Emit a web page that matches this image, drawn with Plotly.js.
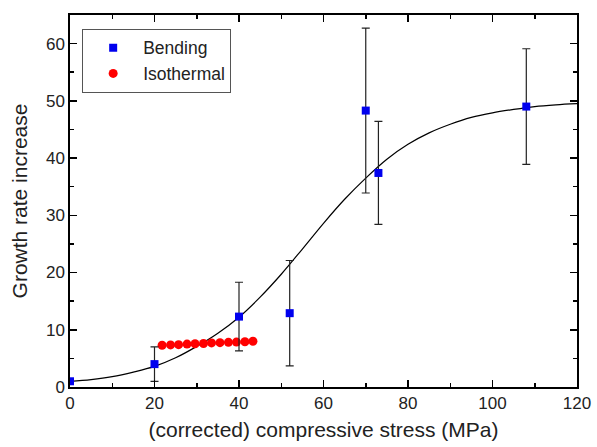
<!DOCTYPE html>
<html>
<head>
<meta charset="utf-8">
<script src="https://cdn.plot.ly/plotly-3.0.1.min.js"></script>
<style>html,body{margin:0;padding:0;background:#fff;}#chart{width:597px;height:447px;}</style>
</head>
<body>
<div id="chart"></div>
<script>
// Bending data (with error bars)
var bendX = [0, 20, 40, 52, 70, 73, 108];
var bendY = [1.0, 4.0, 12.3, 12.9, 48.3, 37.4, 49.0];
var bendErr = [0, 3.0, 6.0, 9.2, 14.4, 9.0, 10.1];

// Isothermal data
var isoX = [21.8, 23.8, 25.7, 27.7, 29.6, 31.6, 33.5, 35.5, 37.5, 39.4, 41.4, 43.3];
var isoY = [7.3, 7.35, 7.4, 7.5, 7.55, 7.6, 7.7, 7.75, 7.8, 7.85, 7.9, 8.0];

// Fit curve
var fitX = [0, 5, 10, 15, 20, 25, 30, 35, 40, 45, 50, 55, 60, 65, 70, 75, 80, 85, 90, 95, 100, 105, 110, 115, 120];
var fitY = [1.0, 1.3, 1.8, 2.6, 3.6, 5.1, 7.1, 9.4, 12.2, 15.7, 19.7, 24.1, 28.6, 32.8, 36.5, 39.8, 42.4, 44.4, 45.9, 47.1, 47.9, 48.5, 49.0, 49.3, 49.5];

var font = 'Liberation Sans, Arial, sans-serif';

var traces = [
  {
    x: fitX, y: fitY, mode: 'lines', type: 'scatter', showlegend: false,
    line: {color: '#000', width: 1.2, shape: 'spline'}, hoverinfo: 'skip'
  },
  {
    x: isoX, y: isoY, mode: 'markers', type: 'scatter', name: 'Isothermal',
    marker: {symbol: 'circle', size: 9, color: '#ff0000'}
  },
  {
    x: bendX, y: bendY, mode: 'markers', type: 'scatter', name: 'Bending',
    marker: {symbol: 'square', size: 8, color: '#0000ee'},
    error_y: {type: 'data', array: bendErr, visible: true, color: '#222', thickness: 1.2, width: 4}
  }
];

var axisCommon = {
  showline: true, linecolor: '#000', linewidth: 1.6, mirror: 'allticks',
  ticks: 'inside', ticklen: 7, tickwidth: 1.5, tickcolor: '#000',
  showgrid: false, zeroline: false,
  tickfont: {family: font, size: 17, color: '#222'}
};

var layout = {
  width: 597, height: 447,
  margin: {l: 70, r: 20, t: 15, b: 60},
  paper_bgcolor: '#fff', plot_bgcolor: '#fff',
  showlegend: true,
  xaxis: Object.assign({}, axisCommon, {
    range: [0, 120], dtick: 20, tick0: 0,
    minor: {dtick: 10, ticks: 'inside', ticklen: 4, tickwidth: 1.5, tickcolor: '#000'},
    title: {text: '(corrected) compressive stress (MPa)', font: {family: font, size: 21, color: '#222'}, standoff: 10}
  }),
  yaxis: Object.assign({}, axisCommon, {
    range: [0, 65], dtick: 10, tick0: 0,
    minor: {dtick: 5, ticks: 'inside', ticklen: 4, tickwidth: 1.5, tickcolor: '#000'},
    title: {text: 'Growth rate increase', font: {family: font, size: 21, color: '#222'}, standoff: 13}
  }),
  legend: {
    x: 0.024, y: 0.963, xanchor: 'left', yanchor: 'top',
    bgcolor: '#fff', bordercolor: '#555', borderwidth: 1,
    font: {family: font, size: 17.5, color: '#222'},
    traceorder: 'reversed', itemwidth: 50, tracegroupgap: 0,
    entrywidth: 158, entrywidthmode: 'pixels'
  }
};

Plotly.newPlot('chart', traces, layout, {displayModeBar: false, staticPlot: true});
</script>
</body>
</html>
